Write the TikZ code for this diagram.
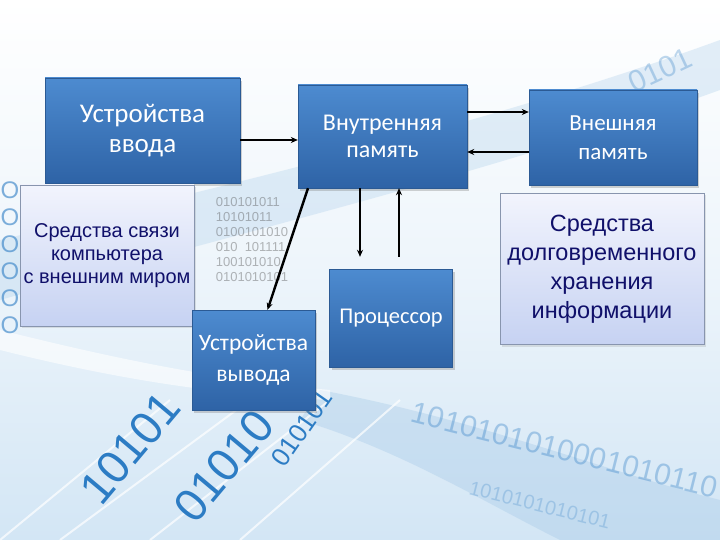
\documentclass[tikz,border=0pt]{standalone}
\usepackage{fontspec}
\setmainfont{Liberation Sans}
\newfontfamily\calibfont{Carlito}
\usepackage{tikz}
\usetikzlibrary{positioning, arrows.meta, shadows}

\definecolor{boxtop}{HTML}{4D8BD0}
\definecolor{boxbot}{HTML}{2E63A6}
\definecolor{boxline}{HTML}{2B5A94}
\definecolor{paletop}{HTML}{F2F4FD}
\definecolor{palebot}{HTML}{C6D2F2}
\definecolor{paleline}{HTML}{8895AE}
\definecolor{navytext}{HTML}{10106A}
\definecolor{bgblue}{HTML}{D3E6F5}
\definecolor{digitblue}{HTML}{2C7CC4}

\begin{document}
\begin{tikzpicture}[
    x=1pt, y=-1pt,
    darkbox/.style 2 args={rectangle, draw=boxline, top color=boxtop, bottom color=boxbot,
        text=white, align=center, font=\calibfont\fontsize{#1}{#2}\selectfont,
        drop shadow={opacity=0.35, shadow xshift=2pt, shadow yshift=-3pt}},
    palebox/.style 2 args={rectangle, draw=paleline, top color=paletop, bottom color=palebot,
        text=navytext, align=center, font=\fontsize{#1}{#2}\selectfont,
        drop shadow={opacity=0.2, shadow xshift=2pt, shadow yshift=-2pt}},
    arrow/.style={-{Stealth[length=7pt, width=6pt]}, line width=2.4pt},
    digits/.style={text=digitblue, font=\fontsize{46}{46}\selectfont, inner sep=0pt}
]
    % Background
    \useasboundingbox (0,0) rectangle (720,540);
    \shade[top color=white, bottom color=bgblue, middle color=white!60!bgblue] (0,0) rectangle (720,540);
    \fill[bgblue!80!digitblue, opacity=0.35] (0,240) .. controls (250,180) and (500,120) .. (720,40)
        -- (720,90) .. controls (500,170) and (250,230) .. (0,300) -- cycle;
    \fill[bgblue!70!digitblue, opacity=0.35] (320,390) .. controls (480,420) and (600,470) .. (720,500)
        -- (720,540) -- (560,540) .. controls (480,500) and (400,450) .. (300,420) -- cycle;
    \fill[white, opacity=0.6] (0,330) .. controls (120,360) and (220,380) .. (330,390)
        -- (330,400) .. controls (220,395) and (120,380) .. (0,350) -- cycle;
    \foreach \xa/\xb in {0/90, 60/170, 150/250, 240/320} {
        \draw[white, line width=2pt, opacity=0.7] (\xa,540) -- (\xb+80,400);
    }
    \node[digits, rotate=50] (bitsa) at (130,448) {10101};
    \node[digits, rotate=50] (bitsb) at (224,466) {01010};
    \node[digits, rotate=55, font=\fontsize{26}{26}\selectfont] (bitsc) at (302,428) {010101};
    \node[digits, rotate=-14, opacity=0.35, font=\fontsize{30}{30}\selectfont] (bitsd) at (565,450) {1010101010001010110};
    \node[digits, rotate=-14, opacity=0.25, font=\fontsize{20}{20}\selectfont] (bitse) at (540,505) {1010101010101};
    \node[digits, rotate=25, opacity=0.3, font=\fontsize{30}{30}\selectfont] (bitsf) at (660,70) {0101};
    \node[digits, opacity=0.4, text=black!70, font=\fontsize{13}{15}\selectfont, align=left] (bitsg) at (252,240)
        {010101011\\10101011\\0100101010\\010 \ 101111\\100101010\\0101010101};
    \node[digits, opacity=0.6, font=\fontsize{24}{27}\selectfont, align=left] (bitsh) at (10,258)
        {O\\O\\O\\O\\O\\O};

    % Nodes
    \node[darkbox={27}{30}, minimum width=195pt, minimum height=105pt] (vvod) at (142.5,130.5) {Устройства\\ввода};
    \node[darkbox={24}{27}, minimum width=169pt, minimum height=103pt] (vnutr) at (382.5,136.5) {Внутренняя\\память};
    \node[darkbox={23}{29}, minimum width=168pt, minimum height=95pt] (vnesh) at (613,137.5) {Внешняя\\память};
    \node[palebox={20}{23}, minimum width=170pt, minimum height=141pt] (svyaz) at (107,255.5)
        {Средства связи\\компьютера\\с внешним миром};
    \node[darkbox={22.5}{27}, minimum width=123pt, minimum height=98pt] (proc) at (391,318) {Процессор};
    \node[darkbox={23.5}{31}, minimum width=123pt, minimum height=100pt] (vyvod) at (253.5,360) {Устройства\\вывода};
    \node[palebox={23.5}{29}, minimum width=204pt, minimum height=151pt] (hran) at (602,269)
        {Средства\\долговременного\\хранения\\информации};

    % Arrows
    \draw[arrow] ([yshift=-9.5pt]vvod.east) -- ([yshift=-3.5pt]vnutr.west);
    \draw[arrow] ([yshift=24.5pt]vnutr.east) -- ([yshift=25.5pt]vnesh.west);
    \draw[arrow] ([yshift=-14.5pt]vnesh.west) -- ([yshift=-15.5pt]vnutr.east);
    \draw[arrow] ([xshift=-74.5pt]vnutr.south) -- ([xshift=14pt]vyvod.north);
    \draw[arrow] ([xshift=-22.5pt]vnutr.south) -- ([xshift=-31pt, yshift=12pt]proc.north);
    \draw[arrow] ([xshift=8pt, yshift=12pt]proc.north) -- ([xshift=16.5pt]vnutr.south);
\end{tikzpicture}
\end{document}
